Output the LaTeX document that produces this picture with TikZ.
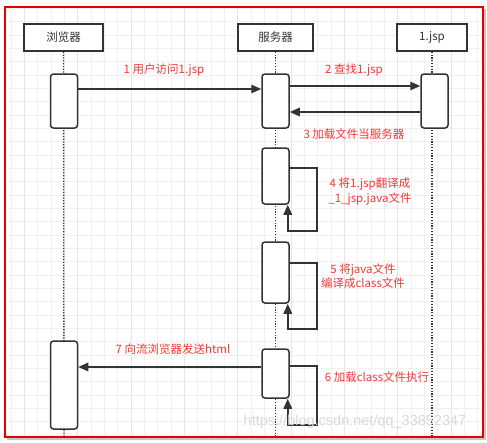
\documentclass[tikz,border=0pt]{standalone}
\usepackage{fontspec}
\newfontfamily\cjk{Noto Sans CJK SC}
\newfontfamily\wmfont{Liberation Sans}
\usetikzlibrary{arrows.meta,positioning}
\definecolor{msgred}{HTML}{FF3333}
\definecolor{boxgray}{HTML}{333333}
\begin{document}
\begin{tikzpicture}[x=1pt,y=-1pt,
   head/.style={draw=boxgray,line width=1.5pt,fill=white,minimum height=27pt,
      inner sep=0pt,text=boxgray,font=\cjk\fontsize{11.5}{13}\selectfont},
   act/.style={draw=boxgray,line width=1.5pt,fill=white,rounded corners=3pt,
      minimum width=27pt,inner sep=0pt},
   life/.style={boxgray,line width=1.3pt,dash pattern=on 1.3pt off 1.5pt},
   msg/.style={boxgray,line width=1.5pt,-{Triangle[length=10pt,width=8.5pt]}},
   lbl/.style={text=msgred,align=center,inner sep=0pt,font=\cjk\fontsize{11.5}{14.5}\selectfont},
   gridline/.style={gray!12,line width=0.8pt}]

   \useasboundingbox (0,0) rectangle (487,442);
   \fill[gray!45] (6.5,8.5) rectangle (485.5,439.5);
   \fill[white] (5,7) rectangle (483,437);
   \begin{scope}
      \clip (5,7) rectangle (483,437);
      \foreach \i in {0,...,36} \draw[gridline] ({11+\i*13.333},7) -- ({11+\i*13.333},437);
      \foreach \i in {0,...,32} \draw[gridline] (5,{8.4+\i*13.333}) -- (483,{8.4+\i*13.333});
      \foreach \i in {0,...,8} \draw[gray!20,line width=0.8pt] ({24.3+\i*53.333},7) -- ({24.3+\i*53.333},437);
   \end{scope}
   \draw[red!90!black,line width=1.2pt] (5,7) rectangle (483,437);

   % lifelines
   \node[head,minimum width=79pt] (browser) at (63.5,37.5) {浏览器};
   \node[head,minimum width=75pt] (server) at (275.5,37.5) {服务器};
   \node[head,minimum width=70pt] (jsp) at (432,37.5) {1.jsp};
   \coordinate (browser end) at (64,436);
   \coordinate (server end) at (275.5,436);
   \coordinate (jsp end) at (432,436);
   \draw[life] (browser) -- (browser end);
   \draw[life] (server) -- (server end);
   \draw[life] (jsp) -- (jsp end);

   % activations
   \node[act,minimum height=54pt] (b1) at (64,101) {};
   \node[act,minimum height=54pt] (s1) at (275.5,101) {};
   \node[act,minimum height=54pt] (j1) at (434.5,101) {};
   \node[act,minimum height=56pt] (s2) at (275.5,176) {};
   \node[act,minimum height=61pt] (s3) at (275.5,272.5) {};
   \node[act,minimum height=49pt] (s4) at (275.5,373.5) {};
   \node[act,minimum height=88pt] (b2) at (64,385) {};

   % messages
   \draw[msg] ([yshift=12pt]b1.east) -- ([yshift=12pt]s1.west);
   \draw[msg] ([yshift=15pt]s1.east) -- ([yshift=15pt]j1.west);
   \draw[msg] ([yshift=-11pt]j1.west) -- ([yshift=-11pt]s1.east);
   \draw[msg] ([yshift=8pt]s2.east) -- ++(27,0) -- ++(0,63) -- ++(-29,0) -- ([xshift=-2pt]s2.south east);
   \draw[msg] ([yshift=9.5pt]s3.east) -- ++(27,0) -- ++(0,66) -- ++(-29,0) -- ([xshift=-2pt]s3.south east);
   \draw[msg] ([yshift=7.5pt]s4.east) -- ++(27,0) -- ++(0,59) -- ++(-29,0) -- ([xshift=-2pt]s4.south east);
   \draw[msg] ([yshift=6.5pt]s4.west) -- ([yshift=6.5pt]s4.west -| b2.east);

   % labels
   \node[lbl] (l1) at (164,70) {1 用户访问1.jsp};
   \node[lbl] (l2) at (354,70) {2 查找1.jsp};
   \node[lbl] (l3) at (354,134) {3 加载文件当服务器};
   \node[lbl] (l4) at (370,191.5) {4 将1.jsp翻译成\\\_1\_jsp.java文件};
   \node[lbl] (l5) at (363,276) {5 将java文件\\编译成class文件};
   \node[lbl] (l6) at (377,377) {6 加载class文件执行};
   \node[lbl] (l7) at (173,349) {7 向流浏览器发送html};
   \node[text=gray!30,font=\wmfont\fontsize{14.5}{16}\selectfont] (wm) at (355,422) {https://blog.csdn.net/qq\_33852347};
\end{tikzpicture}
\end{document}
